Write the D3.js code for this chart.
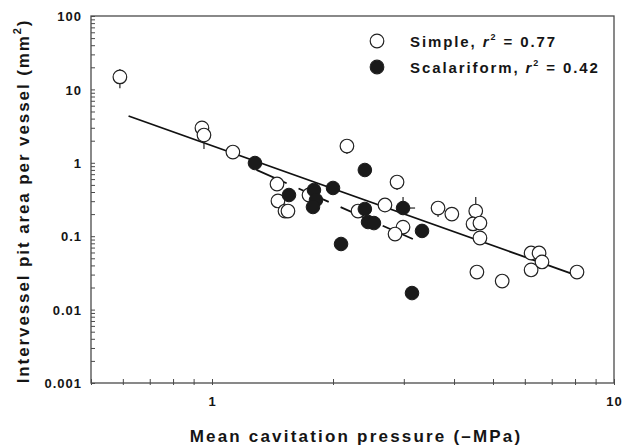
<!DOCTYPE html>
<html>
<head>
<meta charset="utf-8">
<script src="https://cdn.jsdelivr.net/npm/d3@7"></script>
<style>
body { margin: 0; background: #fff; }
text { font-family: Arial, "Liberation Sans", sans-serif; font-weight: bold; fill: #151515; }
</style>
</head>
<body>
<svg width="622" height="447"></svg>
<script>
// simple perforation plates (open circles)
var simpleX = [0.59, 0.944, 0.955, 1.127, 1.451, 1.459, 1.519, 1.545, 2.166, 1.743, 2.308, 2.693, 2.886, 2.987,
    2.853, 3.65, 3.95, 4.53, 4.46, 4.64, 4.64, 4.56, 5.27, 6.22, 6.51, 6.62, 6.22, 8.09];
var simpleY = [14.8, 2.98, 2.39, 1.40, 0.514, 0.302, 0.220, 0.220, 1.69, 0.364, 0.220, 0.266, 0.547, 0.133,
    0.107, 0.242, 0.200, 0.220, 0.147, 0.151, 0.0945, 0.0325, 0.0245, 0.059, 0.059, 0.0446, 0.0347, 0.0325];

// scalariform perforation plates (filled circles)
var scalarX = [1.279, 1.554, 1.793, 1.814, 1.783, 2.0, 2.094, 2.40, 2.40, 2.444, 2.528, 2.987, 3.33, 3.144];
var scalarY = [0.993, 0.364, 0.426, 0.311, 0.250, 0.454, 0.0783, 0.798, 0.235, 0.156, 0.151, 0.242, 0.118, 0.0168];

// regression lines (end points)
var simpleFitX = [0.62, 8.0];
var simpleFitY = [4.34, 0.0298];
var scalarFitX = [1.29, 3.2];
var scalarFitY = [0.80, 0.0887];

// vertical error bars (x, from, to)
var errX = [0.59, 0.955, 1.127, 2.166, 2.886, 4.53, 2.987, 3.65];
var errFrom = [10.4, 2.39, 1.40, 1.69, 0.547, 0.220, 0.242, 0.242];
var errTo = [19.0, 1.54, 1.16, 1.32, 0.426, 0.342, 0.342, 0.183];
// horizontal error bar (y, from, to)
var herrY = [0.242];
var herrFrom = [2.987];
var herrTo = [3.2];

var xTicks = [1, 10];
var yTicks = [0.001, 0.01, 0.1, 1, 10, 100];
var yTickLabels = ["0.001", "0.01", "0.1", "1", "10", "100"];

var svg = d3.select("svg"),
    margin = {top: 16, right: 8, bottom: 64, left: 91},
    width = +svg.attr("width") - margin.left - margin.right,
    height = +svg.attr("height") - margin.top - margin.bottom;

var g = svg.append("g")
    .attr("transform", "translate(" + margin.left + "," + margin.top + ")");

var x = d3.scaleLog().domain([0.5, 10]).range([0, width]);
var y = d3.scaleLog().domain([0.001, 100]).range([height, 0]);

var axisColor = "#4a4a4a";

// frame
g.append("rect")
    .attr("width", width)
    .attr("height", height)
    .attr("fill", "none")
    .attr("stroke", axisColor)
    .attr("stroke-width", 1.3);

// y axis, ticks inside
var yAxis = g.append("g")
    .call(d3.axisLeft(y)
        .tickSize(-4)
        .tickPadding(10)
        .tickFormat(function(d) {
            var i = yTicks.indexOf(d);
            return i < 0 ? "" : yTickLabels[i];
        }));
yAxis.select(".domain").remove();
yAxis.selectAll("line").attr("stroke", axisColor);
yAxis.selectAll("text")
    .attr("font-size", 13)
    .attr("letter-spacing", 1)
    .attr("x", -9)
    .attr("dy", "0.36em");

// x axis
var xAxis = g.append("g")
    .attr("transform", "translate(0," + height + ")")
    .call(d3.axisBottom(x)
        .tickSize(-4)
        .tickPadding(14)
        .tickFormat(function(d) {
            return xTicks.indexOf(d) < 0 ? "" : d;
        }));
xAxis.select(".domain").remove();
xAxis.selectAll("line").attr("stroke", axisColor).attr("y1", 2);
xAxis.selectAll("text")
    .attr("font-size", 13)
    .attr("letter-spacing", 1);

// regression lines
var line = d3.line()
    .x(function(d) { return x(d[0]); })
    .y(function(d) { return y(d[1]); });

g.append("path")
    .datum(d3.zip(simpleFitX, simpleFitY))
    .attr("d", line)
    .attr("fill", "none")
    .attr("stroke", "#111")
    .attr("stroke-width", 1.8);

g.append("path")
    .datum(d3.zip(scalarFitX, scalarFitY))
    .attr("d", line)
    .attr("fill", "none")
    .attr("stroke", "#111")
    .attr("stroke-width", 1.8)
    .attr("stroke-dasharray", "33,13");

// error bars
g.selectAll(".err")
    .data(d3.zip(errX, errFrom, errTo))
    .enter().append("line")
    .attr("class", "err")
    .attr("x1", function(d) { return x(d[0]); })
    .attr("x2", function(d) { return x(d[0]); })
    .attr("y1", function(d) { return y(d[1]); })
    .attr("y2", function(d) { return y(d[2]); })
    .attr("stroke", "#222")
    .attr("stroke-width", 1.2);

g.selectAll(".herr")
    .data(d3.zip(herrY, herrFrom, herrTo))
    .enter().append("line")
    .attr("class", "herr")
    .attr("x1", function(d) { return x(d[1]); })
    .attr("x2", function(d) { return x(d[2]); })
    .attr("y1", function(d) { return y(d[0]); })
    .attr("y2", function(d) { return y(d[0]); })
    .attr("stroke", "#222")
    .attr("stroke-width", 1.2);

var r = 6.8;

g.selectAll(".simple")
    .data(d3.zip(simpleX, simpleY))
    .enter().append("circle")
    .attr("class", "simple")
    .attr("cx", function(d) { return x(d[0]); })
    .attr("cy", function(d) { return y(d[1]); })
    .attr("r", r)
    .attr("fill", "#fff")
    .attr("stroke", "#222")
    .attr("stroke-width", 1.2);

g.selectAll(".scalar")
    .data(d3.zip(scalarX, scalarY))
    .enter().append("circle")
    .attr("class", "scalar")
    .attr("cx", function(d) { return x(d[0]); })
    .attr("cy", function(d) { return y(d[1]); })
    .attr("r", r)
    .attr("fill", "#1a1a1a")
    .attr("stroke", "#1a1a1a")
    .attr("stroke-width", 1);

// legend
var legend = [
    {name: "Simple", r2: "0.77", fill: "#fff"},
    {name: "Scalariform", r2: "0.42", fill: "#1a1a1a"}
];
var leg = svg.selectAll(".leg")
    .data(legend)
    .enter().append("g")
    .attr("class", "leg")
    .attr("transform", function(d, i) { return "translate(377," + (41 + i * 26) + ")"; });

leg.append("circle")
    .attr("r", r)
    .attr("fill", function(d) { return d.fill; })
    .attr("stroke", "#222")
    .attr("stroke-width", 1.2);

var lt = leg.append("text")
    .attr("x", 33)
    .attr("y", 6)
    .attr("font-size", 15)
    .attr("letter-spacing", 1.9);
lt.append("tspan").text(function(d) { return d.name + ", "; });
lt.append("tspan").attr("font-style", "italic").text("r");
lt.append("tspan").attr("font-size", 9).attr("dy", -7).text("2");
lt.append("tspan").attr("dy", 7).text(function(d) { return " = " + d.r2; });

// axis titles
svg.append("text")
    .attr("x", 356)
    .attr("y", 442)
    .attr("text-anchor", "middle")
    .attr("font-size", 17)
    .attr("letter-spacing", 2.2)
    .text("Mean cavitation pressure (\u2013MPa)");

var yt = svg.append("text")
    .attr("transform", "translate(29,201) rotate(-90)")
    .attr("text-anchor", "middle")
    .attr("font-size", 17)
    .attr("letter-spacing", 1.9);
yt.append("tspan").text("Intervessel pit area per vessel (mm");
yt.append("tspan").attr("font-size", 11).attr("dy", -8).text("2");
yt.append("tspan").attr("dy", 8).text(")");
</script>
</body>
</html>
